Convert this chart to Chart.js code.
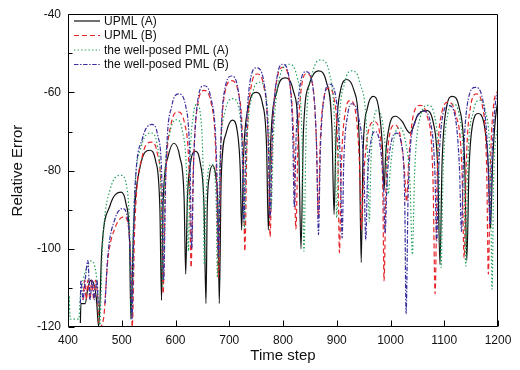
<!DOCTYPE html>
<html>
<head>
<meta charset="utf-8">
<script src="https://cdn.jsdelivr.net/npm/chart.js@4.4.1/dist/chart.umd.min.js"></script>
<style>
html,body{margin:0;padding:0;background:#fff;}
canvas{display:block;}
</style>
</head>
<body>
<canvas id="c" width="520" height="370"></canvas>
<script>
// ---------- data ----------
const seriesNames = ["UPML (A)", "UPML (B)", "the well-posed PML (A)", "the well-posed PML (B)"];
const xTicks = [400, 500, 600, 700, 800, 900, 1000, 1100, 1200];
const yTicks = [-120, -100, -80, -60, -40];
const yMinorTicks = [-110, -90, -70, -50];

// UPML (A)
const upmlA_t = [423, 424, 432, 437, 443, 449, 453, 457,
  463, 478, 499, 508, 514.5, 517,
  522, 535, 552, 563, 571, 574,
  577, 586, 597, 608, 616, 619,
  622, 628, 636, 646, 653, 656.7,
  659, 663, 669, 675, 679, 681.5,
  685, 694, 706, 715, 720.5, 723,
  727, 737, 750, 762, 769.5, 772.7,
  777, 789, 804, 819, 829, 833.5,
  838, 850, 866, 881, 891, 895,
  898.5, 907, 919, 932, 942, 945.5,
  949, 957, 967.5, 978, 985, 988,
  991, 998, 1009, 1022, 1030, 1036,
  1050, 1066, 1080, 1088, 1092,
  1096, 1104, 1115, 1128, 1138, 1142,
  1146, 1153, 1163, 1174, 1182, 1186,
  1190, 1195, 1200];
const upmlA_v = [-119, -114, -114, -110, -108, -109.5, -113, -120,
  -100, -89, -85.5, -88.5, -98, -118,
  -95, -78.5, -74.8, -77.5, -90, -113.2,
  -88, -76.5, -73, -76.5, -87, -106.5,
  -88, -78, -75, -78, -89, -114,
  -90, -81.5, -78.7, -81.5, -90, -114,
  -82, -70.5, -67.1, -70, -80, -95.2,
  -75, -63, -60, -63, -74, -95.2,
  -73, -59.5, -56.3, -59.5, -72, -100,
  -70, -57.5, -54.5, -57.5, -69, -91.2,
  -72, -59.5, -56.7, -59.5, -73, -103.5,
  -75, -64, -61, -64, -74, -85,
  -76, -68.5, -66.1, -67.5, -69.5, -70.4,
  -66, -64.6, -68, -80, -104,
  -78, -64, -61, -64, -78, -103,
  -80, -68, -65.4, -68, -79, -94.8,
  -78, -67, -62];

// UPML (B)
const upmlB_t = [428, 431, 434, 437, 441, 444, 448, 451, 455, 458,
  466, 474, 488, 505, 513, 517, 519.5,
  524, 538, 555, 566, 574, 577,
  581, 592, 604, 617, 626, 629,
  633, 642, 653, 666, 676, 679.7,
  684, 692, 704, 717, 726, 729,
  733, 741, 752, 764, 773, 776,
  780, 789, 800, 811, 820, 824,
  828, 835, 844, 855, 862, 866,
  869, 876, 885, 895, 902, 905,
  908.5, 916, 925, 935, 942.5, 946,
  950, 958, 970, 980, 985.5, 988,
  991.5, 998, 1008, 1018, 1026, 1030,
  1034, 1043, 1055, 1068, 1079, 1083,
  1087, 1095, 1107, 1121, 1133, 1137,
  1141, 1149, 1160, 1171, 1179, 1182,
  1186, 1192, 1200];
const upmlB_v = [-113, -108, -113, -108, -113, -108, -113, -108, -112, -120,
  -118, -103, -94.5, -91.8, -95, -104, -120,
  -95, -76.5, -72.7, -75.5, -88, -111.5,
  -85, -68, -65, -68, -83, -104.8,
  -80, -62.5, -59.5, -62.5, -80, -107.3,
  -76, -60, -57, -60, -77, -100.6,
  -73, -58.3, -55.3, -58.3, -74, -96.9,
  -72, -56.5, -53.6, -56.5, -72, -95,
  -72, -58, -55.2, -58, -72, -92,
  -74, -61.5, -58.9, -61.5, -76, -101,
  -79, -65, -62.1, -65, -79, -95,
  -82, -70.5, -67.5, -70.5, -84, -108.2,
  -85, -71, -68.3, -71, -80, -88,
  -77, -65.5, -63.3, -66, -82, -111.5,
  -80, -65.5, -62.5, -65.5, -80, -102.3,
  -78, -63.5, -60.4, -63.5, -80, -106.5,
  -78, -63, -59.5];

// the well-posed PML (A)
const wpA_t = [401, 402, 404, 420, 423, 428, 436, 443, 450, 455, 459,
  464, 478, 499, 509, 515, 518,
  522, 536, 555, 566, 573, 576,
  579.5, 590, 602, 613, 621, 624,
  627, 633, 640, 647, 651, 653.6,
  656, 660, 667, 673, 676, 678,
  682, 692, 707, 719, 725.5, 728,
  732, 743, 757, 768, 775, 778,
  782, 794, 811, 826, 835.5, 839,
  843, 855, 871, 886, 896.5, 900,
  904, 915, 928, 943, 956.5, 960.6,
  963.5, 969, 976, 985, 992, 996,
  999.5, 1007, 1016, 1027, 1036.5, 1040.6,
  1045, 1056, 1070, 1082, 1090.5, 1094,
  1098, 1106, 1117, 1128, 1136.5, 1140,
  1144, 1154, 1166, 1177, 1186, 1189,
  1192, 1200];
const wpA_v = [-118, -112, -118, -118, -112, -108, -104.5, -103.1, -104.5, -110, -120,
  -100, -85, -81.2, -84, -96, -118,
  -92, -74, -70.4, -73.5, -86, -110,
  -84, -70, -67, -70, -82, -100.6,
  -78, -66, -63, -66.5, -78, -104,
  -90, -81, -78.4, -81, -90, -107.3,
  -80, -65, -61.6, -65, -78, -95,
  -75, -60.5, -57.4, -60.5, -74, -90,
  -72, -56, -52.8, -56, -72, -100.6,
  -70, -55, -51.7, -55, -70, -92,
  -70, -57.5, -54.5, -57.5, -72, -93,
  -78, -67, -64.5, -67.5, -77, -86,
  -80, -71.5, -69, -72, -84, -101.5,
  -80, -66, -63.3, -66, -81, -104.8,
  -80, -66, -63, -66, -80, -104.4,
  -78, -65, -62, -65, -82, -110.3,
  -82, -68];

// the well-posed PML (B)
const wpB_t = [423, 424, 428, 432, 437, 441, 445, 449, 454, 456, 462,
  469, 474, 487, 502, 511, 516, 519,
  523.5, 538, 556, 567, 575, 578,
  582, 593, 606, 619, 627, 630,
  634, 642, 653, 666, 676.5, 680,
  684, 692, 704.5, 716, 724, 727,
  731, 739, 751, 764, 772.5, 776,
  780, 789, 800, 811, 818, 821,
  824.5, 832, 843, 855, 862.5, 866,
  869.5, 877, 887, 898, 906.5, 910,
  913, 920, 928, 940, 950.5, 954,
  957, 963, 971, 980, 987, 990,
  993.5, 1001, 1011, 1020, 1026.5, 1029,
  1033, 1046, 1062, 1074, 1082.5, 1086,
  1089.5, 1097, 1108, 1120, 1128.5, 1132,
  1136, 1145, 1158, 1171, 1181, 1185,
  1189, 1195, 1200];
const wpB_v = [-114, -108, -113, -108, -103, -113, -108, -113, -108, -114, null,
  -114, -102, -92.5, -89.7, -92.5, -102, -118,
  -88, -72, -68.2, -71, -84, -108,
  -80, -63.5, -60.4, -63.5, -78, -100,
  -77, -61.5, -58.3, -61.5, -78, -102,
  -74, -59, -55.8, -59, -74, -93,
  -72, -57, -53.7, -57, -72, -92,
  -71, -56, -52.8, -56, -70, -89.3,
  -71, -58, -54.7, -58, -74, -96.4,
  -75, -61, -57.9, -61, -77, -97.3,
  -78, -66, -62.9, -66, -80, -97.7,
  -83, -73, -70, -73, -84, -96,
  -83, -73, -70.4, -73, -88, -116.6,
  -85, -67.5, -64.8, -67.5, -80, -98,
  -80, -66, -63.3, -66, -80, -95.6,
  -76, -61.5, -58.7, -61.5, -76, -93.8,
  -76, -63, -60];

// ---------- chart ----------
function pts(t, v) {
  const n = Math.min(t.length, v.length);
  const out = [];
  for (let i = 0; i < n; i++) out.push({x: t[i], y: v[i]});
  return out;
}

const FONT = '"Liberation Sans", Arial, Helvetica, sans-serif';
const styles = [
  {color: '#111111', dash: [], order: 3},
  {color: '#e5262b', dash: [5, 3], order: 2},
  {color: '#1e9e58', dash: [1.4, 2.2], order: 1},
  {color: '#3a2f9e', dash: [4.5, 1.6, 1.4, 1.6], order: 0}
];
const series = [pts(upmlA_t, upmlA_v), pts(upmlB_t, upmlB_v), pts(wpA_t, wpA_v), pts(wpB_t, wpB_v)];

const datasets = series.map((d, i) => ({
  label: seriesNames[i],
  data: d,
  borderColor: styles[i].color,
  borderDash: styles[i].dash,
  borderWidth: 1.2,
  pointRadius: 0,
  fill: false,
  spanGaps: false,
  cubicInterpolationMode: 'monotone',
  order: styles[i].order
}));

const framePlugin = {
  id: 'frameTicks',
  afterDatasetsDraw(chart) {
    const {ctx, chartArea: a} = chart;
    const xs = chart.scales.x, ys = chart.scales.y;
    ctx.save();
    ctx.strokeStyle = '#000';
    ctx.lineWidth = 1;
    ctx.setLineDash([]);
    const L = Math.round(a.left) + 0.5, R = Math.round(a.right) - 0.5;
    const T = Math.round(a.top) + 0.5, B = Math.round(a.bottom) - 0.5;
    ctx.beginPath();
    ctx.rect(L, T, R - L, B - T);
    ctx.stroke();
    ctx.beginPath();
    yTicks.forEach(v => {
      const py = Math.round(ys.getPixelForValue(v)) + 0.5;
      ctx.moveTo(L, py); ctx.lineTo(L + 6, py);
    });
    yMinorTicks.forEach(v => {
      const py = Math.round(ys.getPixelForValue(v)) + 0.5;
      ctx.moveTo(L, py); ctx.lineTo(L + 4, py);
    });
    xTicks.forEach(v => {
      const px = Math.round(xs.getPixelForValue(v)) + 0.5;
      ctx.moveTo(px, B); ctx.lineTo(px, B - 6);
    });
    ctx.stroke();
    ctx.restore();
  },
  afterDraw(chart) {
    const {ctx} = chart;
    ctx.save();
    const rows = [21, 35.5, 50, 64.5];
    chart.data.datasets.forEach((ds, i) => {
      const y = rows[i];
      ctx.strokeStyle = ds.borderColor;
      ctx.lineWidth = 1.2;
      ctx.setLineDash(ds.borderDash);
      ctx.beginPath();
      ctx.moveTo(74, y); ctx.lineTo(100, y);
      ctx.stroke();
      ctx.setLineDash([]);
      ctx.fillStyle = '#111';
      ctx.font = '12px ' + FONT;
      ctx.textBaseline = 'middle';
      ctx.textAlign = 'left';
      ctx.fillText(ds.label, 104, y + 0.5);
    });
    ctx.restore();
  }
};

new Chart(document.getElementById('c'), {
  type: 'line',
  data: {datasets},
  options: {
    responsive: false,
    animation: false,
    events: [],
    layout: {padding: {left: 0, right: 22, top: 9, bottom: 0}},
    plugins: {legend: {display: false}, tooltip: {enabled: false}},
    scales: {
      x: {
        type: 'linear', min: 400, max: 1200,
        afterBuildTicks: s => { s.ticks = xTicks.map(v => ({value: v})); },
        afterFit: s => { s.height = 43; },
        grid: {display: false, drawTicks: false},
        border: {display: false},
        ticks: {padding: 6, color: '#111', maxRotation: 0, autoSkip: false, font: {family: FONT, size: 12},
          callback: v => String(v)},
        title: {display: true, text: 'Time step', color: '#111', font: {family: FONT, size: 15}, padding: {top: 0, bottom: 5}}
      },
      y: {
        type: 'linear', min: -120, max: -40,
        afterBuildTicks: s => { s.ticks = yTicks.map(v => ({value: v})); },
        afterFit: s => { s.width = 68; },
        grid: {display: false, drawTicks: false},
        border: {display: false},
        ticks: {padding: 7, color: '#111', font: {family: FONT, size: 12}, callback: v => String(v)},
        title: {display: true, text: 'Relative Error', color: '#111', font: {family: FONT, size: 15}, padding: {top: 9, bottom: 0}}
      }
    }
  },
  plugins: [framePlugin]
});
</script>
</body>
</html>
